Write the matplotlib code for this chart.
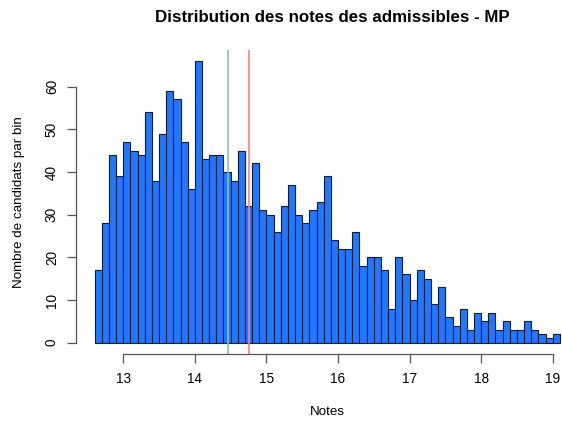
import matplotlib
matplotlib.use("Agg")
import matplotlib.pyplot as plt
import numpy as np

plt.rcParams['font.family'] = ['Liberation Sans', 'DejaVu Sans']

bin_start = 12.6
bin_width = 0.1
counts = [17, 28, 44, 39, 47, 45, 44, 54, 38, 49,
          59, 57, 47, 36, 66, 43, 44, 44, 40, 38,
          45, 32, 42, 31, 30, 26, 32, 37, 30, 28,
          31, 33, 39, 24, 22, 22, 26, 18, 20, 20,
          17, 8, 20, 16, 10, 17, 15, 9, 13, 6,
          4, 8, 3, 7, 5, 7, 3, 5, 3, 3,
          5, 3, 2, 1, 2]
x_ticks = [13, 14, 15, 16, 17, 18, 19]
y_ticks = [0, 10, 20, 30, 40, 50, 60]
green_line = 14.46
red_line = 14.75

title = "Distribution des notes des admissibles - MP"
xlabel = "Notes"
ylabel = "Nombre de candidats par bin"

edges = bin_start + bin_width * np.arange(len(counts))

fig = plt.figure(figsize=(5.62, 4.23), dpi=100)
ax = fig.add_axes([76/562, 69/423, (578.5-76)/562, (354-49.8)/423])

ax.bar(edges, counts, width=bin_width, align='edge', color='#1F78FF',
       edgecolor='#0d1a33', linewidth=0.8)
xmin, xmax = edges[0], edges[-1] + bin_width
xr = xmax - xmin
ax.set_xlim(xmin - 0.04*xr, xmax + 0.04*xr)
ymax = max(counts)
ax.set_ylim(-0.04*ymax, ymax*1.04)

ax.axvline(green_line, color='#8CC49C', linewidth=1.2)
ax.axvline(red_line, color='#FF7F7F', linewidth=1.2)

for s in ['top', 'right']:
    ax.spines[s].set_visible(False)
ax.spines['left'].set_bounds(y_ticks[0], y_ticks[-1])
ax.spines['bottom'].set_bounds(x_ticks[0], x_ticks[-1])
for s in ['left', 'bottom']:
    ax.spines[s].set_color('#555555')
    ax.spines[s].set_linewidth(0.9)

ax.set_xticks(x_ticks)
ax.set_yticks(y_ticks)
ax.set_xticklabels([str(t) for t in x_ticks], fontsize=9.8)
ax.set_yticklabels([str(t) for t in y_ticks], fontsize=9.8, rotation=90, va='center')
ax.tick_params(axis='both', length=6.3, width=0.9, color='#555555')
ax.tick_params(axis='x', pad=6.5)
ax.tick_params(axis='y', pad=6)

ax.set_xlabel(xlabel, fontsize=9.6)
ax.set_ylabel(ylabel, fontsize=9.6)
ax.xaxis.set_label_coords(0.5, (354-411.7)/304.2)
ax.xaxis.label.set_va('center')
ax.yaxis.set_label_coords((19-76)/502.5, 0.5)
ax.yaxis.label.set_va('center')

fig.text(332/562, 1 - 18/423, title, fontsize=12.2, fontweight='bold',
         ha='center', va='center')

fig.savefig('out.png', dpi=100)
